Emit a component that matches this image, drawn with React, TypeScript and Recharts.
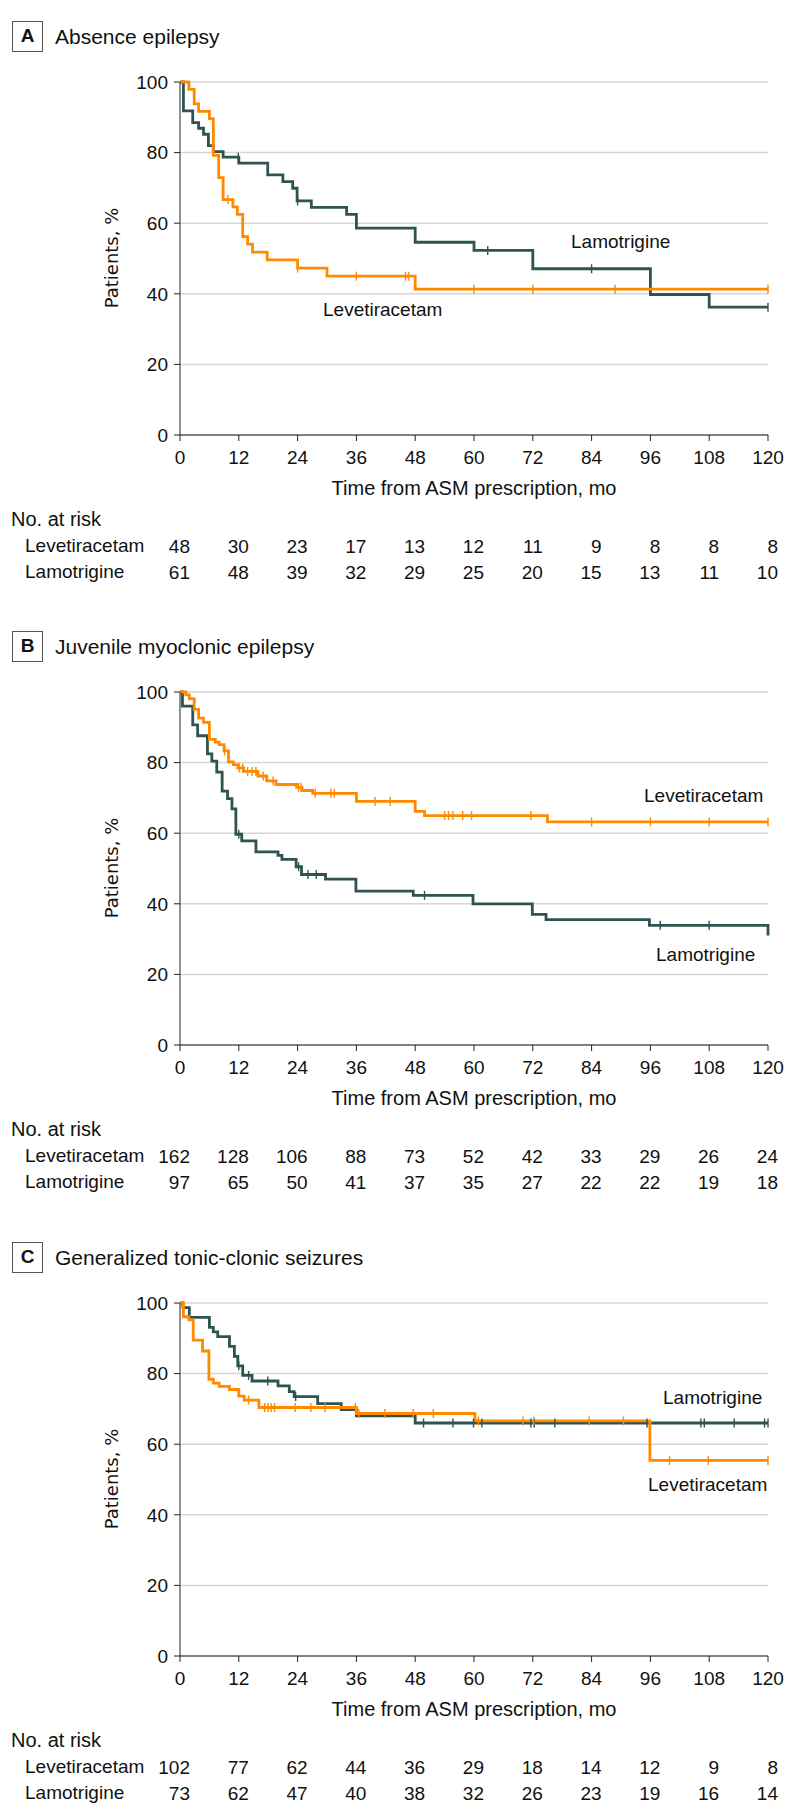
import React from "react";
import { LineChart, Line, XAxis, YAxis, CartesianGrid } from "recharts";

const ORANGE = "#FF8A00";
const TEAL = "#2E5451";
const FONT = "'Liberation Sans', Arial, sans-serif";

const MONTH_TICKS = [0, 12, 24, 36, 48, 60, 72, 84, 96, 108, 120];
const PCT_TICKS = [0, 20, 40, 60, 80, 100];

// Panel A: absence epilepsy
const aLevTimes = [1.8, 2.9, 3.8, 6.0, 6.8, 7.9, 8.8, 10.8, 11.7, 12.8, 13.8, 14.8, 17.8, 24.0, 30.0, 48.0];
const aLevSurv = [97.9, 93.8, 91.7, 89.6, 79.2, 72.9, 66.7, 64.6, 62.5, 56.2, 54.1, 51.8, 49.6, 47.3, 45.0, 41.3];
const aLevCens = [9.8, 24.0, 36, 46, 46.7, 60, 72, 88.8, 120];
const aLamTimes = [0.7, 2.6, 3.8, 4.8, 5.8, 6.8, 8.8, 12.0, 17.9, 21.0, 23.0, 23.9, 26.8, 34.0, 36.0, 48.0, 60.0, 72.0, 96.0, 108.0];
const aLamSurv = [91.8, 88.5, 86.9, 85.2, 82.0, 80.3, 78.7, 77.0, 73.7, 71.8, 69.9, 66.3, 64.5, 62.5, 58.6, 54.6, 52.3, 47.1, 39.8, 36.2];
const aLamCens = [11.9, 24.0, 62.8, 84, 120];
const aLevRisk = [48, 30, 23, 17, 13, 12, 11, 9, 8, 8, 8];
const aLamRisk = [61, 48, 39, 32, 29, 25, 20, 15, 13, 11, 10];

// Panel B: juvenile myoclonic epilepsy
const bLevTimes = [1.2, 1.9, 2.9, 3.8, 4.8, 6.0, 7.2, 8.0, 9.0, 9.9, 10.9, 11.8, 13.0, 15.9, 17.7, 19.6, 23.8, 24.9, 27.1, 36.0, 48.0, 49.9, 75.0];
const bLevSurv = [99.2, 98.1, 95.1, 92.6, 91.4, 86.6, 85.8, 85.1, 83.3, 80.2, 79.4, 78.5, 77.5, 76.2, 74.8, 73.8, 73.0, 72.1, 71.3, 69.0, 66.2, 65.0, 63.2];
const bLevCens = [9.1, 12.1, 12.8, 13.8, 14.7, 15.5, 17.0, 19.0, 24.2, 24.7, 27.6, 30.8, 31.5, 39.8, 42.9, 54.0, 54.8, 55.7, 57.7, 59.5, 71.6, 84, 96, 108, 120];
const bLamTimes = [0.5, 2.6, 3.6, 5.6, 6.5, 7.5, 8.6, 9.7, 10.6, 11.4, 12.6, 15.5, 20.0, 20.8, 23.7, 24.8, 29.7, 35.9, 47.6, 59.8, 71.9, 74.7, 95.8, 120];
const bLamSurv = [96.0, 90.7, 87.6, 82.5, 80.4, 77.3, 71.9, 69.8, 66.9, 59.7, 57.8, 54.7, 53.7, 52.6, 50.5, 48.3, 47.0, 43.6, 42.4, 40.0, 37.0, 35.5, 33.9, 31.0];
const bLamCens = [12.0, 24.2, 26.1, 27.8, 49.9, 98.0, 108.0];
const bLevRisk = [162, 128, 106, 88, 73, 52, 42, 33, 29, 26, 24];
const bLamRisk = [97, 65, 50, 41, 37, 35, 27, 22, 22, 19, 18];

// Panel C: generalized tonic-clonic seizures
const cLevTimes = [0.7, 1.8, 2.7, 4.6, 5.9, 6.8, 8.0, 10.1, 12.0, 13.1, 16.1, 36.0, 60.2, 95.9];
const cLevSurv = [96.1, 95.2, 89.5, 86.4, 78.4, 77.3, 76.4, 75.5, 73.6, 72.5, 70.4, 68.7, 66.6, 55.4];
const cLevCens = [14.0, 17.3, 18.0, 18.6, 19.3, 23.5, 26.7, 29.6, 35.8, 36.5, 41.8, 47.6, 51.7, 60.9, 70.0, 72.2, 83.5, 90.5, 99.9, 107.8, 120];
const cLamTimes = [0.6, 1.9, 6.0, 6.8, 7.7, 10.1, 11.1, 11.8, 12.8, 14.7, 20.0, 22.3, 23.3, 28.1, 32.9, 36.0, 48.0];
const cLamSurv = [98.7, 95.9, 93.1, 91.8, 90.5, 87.7, 84.9, 82.2, 79.5, 77.9, 76.5, 74.9, 73.5, 71.5, 69.8, 68.0, 66.0];
const cLamCens = [12.0, 14.0, 17.9, 23.6, 49.7, 55.7, 59.9, 61.6, 71.6, 72.3, 76.5, 95.3, 106.3, 107.0, 113.1, 119.3, 120];
const cLevRisk = [102, 77, 62, 44, 36, 29, 18, 14, 12, 9, 8];
const cLamRisk = [73, 62, 47, 40, 38, 32, 26, 23, 19, 16, 14];

type Pt = { t: number; s: number; c: boolean };

function buildCurve(times: number[], surv: number[], cens: number[]): Pt[] {
  const pts: Pt[] = [{ t: 0, s: 100, c: false }];
  times.forEach((t, i) => pts.push({ t, s: surv[i], c: false }));
  cens.forEach((t) => {
    let s = 100;
    times.forEach((tt, i) => {
      if (tt <= t) s = surv[i];
    });
    pts.push({ t, s, c: true });
  });
  return pts.sort((a, b) => a.t - b.t || (a.c ? 1 : 0) - (b.c ? 1 : 0));
}

const censorDot = (color: string) => (props: any) => {
  const { cx, cy, payload, index } = props;
  if (!payload || !payload.c) return <g key={"d" + index} />;
  return <line key={"d" + index} x1={cx} x2={cx} y1={cy - 4.5} y2={cy + 4.5} stroke={color} strokeWidth={1.4} />;
};

type PanelProps = {
  top: number;
  letter: string;
  title: string;
  lev: Pt[];
  lam: Pt[];
  levRisk: number[];
  lamRisk: number[];
  levLabel: { x: number; y: number };
  lamLabel: { x: number; y: number };
};

const txt: React.CSSProperties = {
  position: "absolute",
  height: 24,
  lineHeight: "24px",
  whiteSpace: "nowrap",
  color: "#111",
  fontFamily: FONT,
};

function Panel(p: PanelProps) {
  const tick = (props: any) => {
    const { x, y, payload } = props;
    const i = MONTH_TICKS.indexOf(payload.value);
    return (
      <g fontFamily={FONT} fill="#111">
        <text x={x} y={y + 16} textAnchor="middle" dominantBaseline="central" fontSize={19}>
          {payload.value}
        </text>
        <text x={x + 10} y={y + 105} textAnchor="end" dominantBaseline="central" fontSize={19}>
          {p.levRisk[i]}
        </text>
        <text x={x + 10} y={y + 131} textAnchor="end" dominantBaseline="central" fontSize={19}>
          {p.lamRisk[i]}
        </text>
      </g>
    );
  };

  return (
    <div style={{ position: "absolute", left: 0, top: p.top, width: 798, height: 610 }}>
      <div
        style={{
          position: "absolute",
          left: 12,
          top: 21,
          width: 31,
          height: 31,
          boxSizing: "border-box",
          border: "1.5px solid #555",
          textAlign: "center",
          lineHeight: "28px",
          fontWeight: "bold",
          fontSize: 19,
          fontFamily: FONT,
          color: "#111",
        }}
      >
        {p.letter}
      </div>
      <div style={{ ...txt, left: 55, top: 37 - 12, fontSize: 21 }}>{p.title}</div>

      <LineChart width={798} height={585} margin={{ top: 82, right: 30, bottom: 0, left: 0 }}>
        <CartesianGrid vertical={false} stroke="#d6d6d6" strokeWidth={1.5} />
        <XAxis
          type="number"
          dataKey="t"
          domain={[0, 120]}
          ticks={MONTH_TICKS}
          interval={0}
          height={150}
          tickSize={6}
          tickMargin={0}
          stroke="#222"
          tick={tick}
        />
        <YAxis
          type="number"
          domain={[0, 100]}
          ticks={PCT_TICKS}
          interval={0}
          width={180}
          tickSize={6}
          tickMargin={6}
          stroke="#222"
          tick={{ fontSize: 19, fill: "#111", fontFamily: FONT }}
        />
        <Line
          data={p.lam}
          dataKey="s"
          type="stepAfter"
          stroke={TEAL}
          strokeWidth={2.8}
          dot={censorDot(TEAL)}
          activeDot={false}
          isAnimationActive={false}
        />
        <Line
          data={p.lev}
          dataKey="s"
          type="stepAfter"
          stroke={ORANGE}
          strokeWidth={2.8}
          dot={censorDot(ORANGE)}
          activeDot={false}
          isAnimationActive={false}
        />
      </LineChart>

      <div
        style={{
          ...txt,
          left: 112 - 100,
          top: 258 - 12,
          width: 200,
          textAlign: "center",
          fontSize: 18,
          fontFamily: "'DejaVu Sans', sans-serif",
          transform: "rotate(-90deg)",
        }}
      >
        Patients, %
      </div>
      <div style={{ ...txt, left: p.lamLabel.x, top: p.lamLabel.y - 12, fontSize: 19 }}>Lamotrigine</div>
      <div style={{ ...txt, left: p.levLabel.x, top: p.levLabel.y - 12, fontSize: 19 }}>Levetiracetam</div>

      <div style={{ ...txt, left: 180, width: 588, textAlign: "center", top: 435 + 53 - 12, fontSize: 20 }}>
        Time from ASM prescription, mo
      </div>
      <div style={{ ...txt, left: 11, top: 435 + 84 - 12, fontSize: 20 }}>No. at risk</div>
      <div style={{ ...txt, left: 25, top: 435 + 111 - 12, fontSize: 19 }}>Levetiracetam</div>
      <div style={{ ...txt, left: 25, top: 435 + 137 - 12, fontSize: 19 }}>Lamotrigine</div>
    </div>
  );
}

export default function App() {
  return (
    <div style={{ position: "absolute", left: 0, top: 0, width: 798, height: 1820, background: "#fff" }}>
      <Panel
        top={0}
        letter="A"
        title="Absence epilepsy"
        lev={buildCurve(aLevTimes, aLevSurv, aLevCens)}
        lam={buildCurve(aLamTimes, aLamSurv, aLamCens)}
        levRisk={aLevRisk}
        lamRisk={aLamRisk}
        lamLabel={{ x: 571, y: 242 }}
        levLabel={{ x: 323, y: 310 }}
      />
      <Panel
        top={610}
        letter="B"
        title="Juvenile myoclonic epilepsy"
        lev={buildCurve(bLevTimes, bLevSurv, bLevCens)}
        lam={buildCurve(bLamTimes, bLamSurv, bLamCens)}
        levRisk={bLevRisk}
        lamRisk={bLamRisk}
        levLabel={{ x: 644, y: 186 }}
        lamLabel={{ x: 656, y: 345 }}
      />
      <Panel
        top={1221}
        letter="C"
        title="Generalized tonic-clonic seizures"
        lev={buildCurve(cLevTimes, cLevSurv, cLevCens)}
        lam={buildCurve(cLamTimes, cLamSurv, cLamCens)}
        levRisk={cLevRisk}
        lamRisk={cLamRisk}
        lamLabel={{ x: 663, y: 177 }}
        levLabel={{ x: 648, y: 264 }}
      />
    </div>
  );
}
